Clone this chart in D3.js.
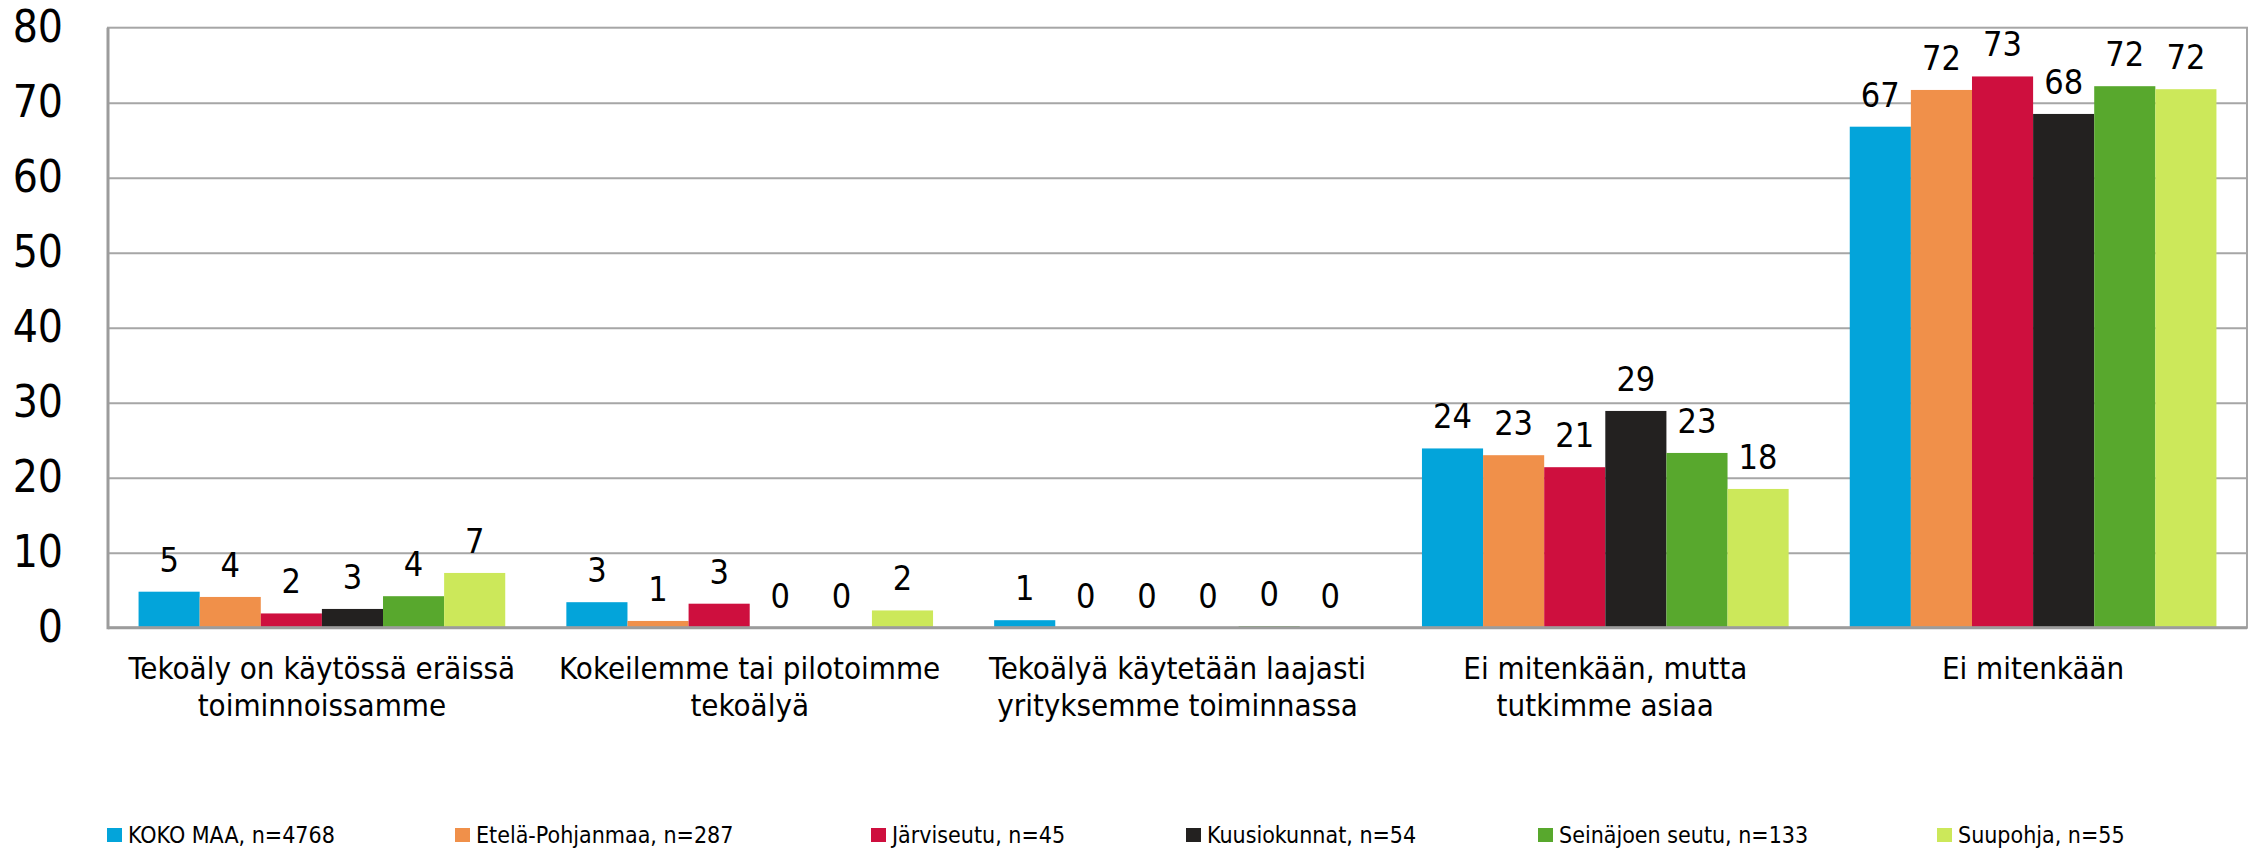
<!DOCTYPE html>
<html>
<head>
<meta charset="utf-8">
<script src="https://cdn.jsdelivr.net/npm/d3@7"></script>
<style>
  html, body { margin: 0; padding: 0; background: #fff; }
  svg { display: block; }
  text { font-family: "DejaVu Sans Condensed", "DejaVu Sans", sans-serif; font-stretch: condensed; fill: #000; }
</style>
</head>
<body>
<svg id="chart" width="2257" height="849"></svg>
<script>
// ---- data ----
const categories = [
  "Tekoäly on käytössä eräissä\ntoiminnoissamme",
  "Kokeilemme tai pilotoimme\ntekoälyä",
  "Tekoälyä käytetään laajasti\nyrityksemme toiminnassa",
  "Ei mitenkään, mutta\ntutkimme asiaa",
  "Ei mitenkään"
];
const seriesNames = [
  "KOKO MAA, n=4768",
  "Etelä-Pohjanmaa, n=287",
  "Järviseutu, n=45",
  "Kuusiokunnat, n=54",
  "Seinäjoen seutu, n=133",
  "Suupohja, n=55"
];
const kokoMaa        = [4.8, 3.4, 1.0, 23.9, 66.8];
const etelaPohjanmaa = [4.1, 0.9, 0.0, 23.0, 71.7];
const jarviseutu     = [1.9, 3.2, 0.0, 21.4, 73.5];
const kuusiokunnat   = [2.5, 0.0, 0.0, 28.9, 68.5];
const seinajoenSeutu = [4.2, 0.0, 0.2, 23.3, 72.2];
const suupohja       = [7.3, 2.3, 0.0, 18.5, 71.8];
const seriesValues = [kokoMaa, etelaPohjanmaa, jarviseutu, kuusiokunnat, seinajoenSeutu, suupohja];
const labelValues = [
  [5, 3, 1, 24, 67],
  [4, 1, 0, 23, 72],
  [2, 3, 0, 21, 73],
  [3, 0, 0, 29, 68],
  [4, 0, 0, 23, 72],
  [7, 2, 0, 18, 72]
];
const yTicks = [0, 10, 20, 30, 40, 50, 60, 70, 80];

// ---- styles / layout ----
const colors = ["#03A4DA", "#F0904A", "#CE0F3E", "#232120", "#58A82D", "#CCE85A"];
const plot = { left: 108, right: 2247, top: 27.7, bottom: 627.7 };
const legendX = [107, 455, 871, 1186, 1538, 1937];

const svg = d3.select("#chart");

const x0 = d3.scaleBand().domain(d3.range(categories.length))
  .range([plot.left, plot.right]).paddingInner(0).paddingOuter(0);
const x1 = d3.scaleBand().domain(d3.range(seriesNames.length))
  .range([0, x0.bandwidth()]).paddingInner(0).paddingOuter(0.5);
const y = d3.scaleLinear().domain([0, 80]).range([plot.bottom, plot.top]);

// gridlines
const grid = d3.axisLeft(y).tickValues(yTicks.filter(t => t > 0 && t < 80))
  .tickSize(-(plot.right - plot.left)).tickFormat("");
svg.append("g").attr("transform", `translate(${plot.left},0)`).call(grid)
  .call(g => g.select(".domain").remove())
  .call(g => g.selectAll("line").attr("stroke", "#A6A6A6").attr("stroke-width", 2));

// bars
const groups = svg.append("g").selectAll("g").data(categories).join("g")
  .attr("transform", (d, i) => `translate(${x0(i)},0)`);
groups.each(function(c, ci) {
  const g = d3.select(this);
  seriesValues.forEach((vals, si) => {
    const v = vals[ci];
    g.append("rect")
      .attr("x", x1(si))
      .attr("width", x1.bandwidth())
      .attr("y", y(v))
      .attr("height", y(0) - y(v))
      .attr("fill", colors[si]);
    g.append("text")
      .attr("x", x1(si) + x1.bandwidth() / 2)
      .attr("y", y(v) - 20)
      .attr("text-anchor", "middle")
      .attr("font-size", 34)
      .text(labelValues[si][ci]);
  });
});

// plot border
svg.append("rect")
  .attr("x", plot.left).attr("y", plot.top)
  .attr("width", plot.right - plot.left).attr("height", plot.bottom - plot.top)
  .attr("fill", "none").attr("stroke", "#A6A6A6").attr("stroke-width", 2);
// axes lines
svg.append("line").attr("x1", plot.left).attr("x2", plot.left).attr("y1", plot.top).attr("y2", plot.bottom + 1.5)
  .attr("stroke", "#9C9C9C").attr("stroke-width", 3);
svg.append("line").attr("x1", plot.left).attr("x2", plot.right).attr("y1", plot.bottom).attr("y2", plot.bottom)
  .attr("stroke", "#9C9C9C").attr("stroke-width", 3);

// y tick labels
const yAxis = d3.axisLeft(y).tickValues(yTicks).tickSize(0).tickPadding(45);
svg.append("g").attr("transform", `translate(${plot.left},0)`).call(yAxis)
  .call(g => g.select(".domain").remove())
  .call(g => g.selectAll("text").attr("font-size", 44).attr("fill", "#000")
    .attr("font-family", null));

// category labels
svg.append("g").selectAll("text").data(categories).join("text")
  .attr("x", (d, i) => x0(i) + x0.bandwidth() / 2)
  .attr("y", 679)
  .attr("text-anchor", "middle")
  .attr("font-size", 31)
  .each(function(d) {
    const t = d3.select(this);
    d.split("\n").forEach((line, li) => {
      t.append("tspan").attr("x", t.attr("x")).attr("dy", li === 0 ? 0 : 37).text(line);
    });
  });

// legend
const leg = svg.append("g").selectAll("g").data(seriesNames).join("g")
  .attr("transform", (d, i) => `translate(${legendX[i]},0)`);
leg.append("rect").attr("x", 0).attr("y", 828).attr("width", 15).attr("height", 14)
  .attr("fill", (d, i) => colors[i]);
leg.append("text").attr("x", 21).attr("y", 843).attr("font-size", 23).text(d => d);
</script>
</body>
</html>
